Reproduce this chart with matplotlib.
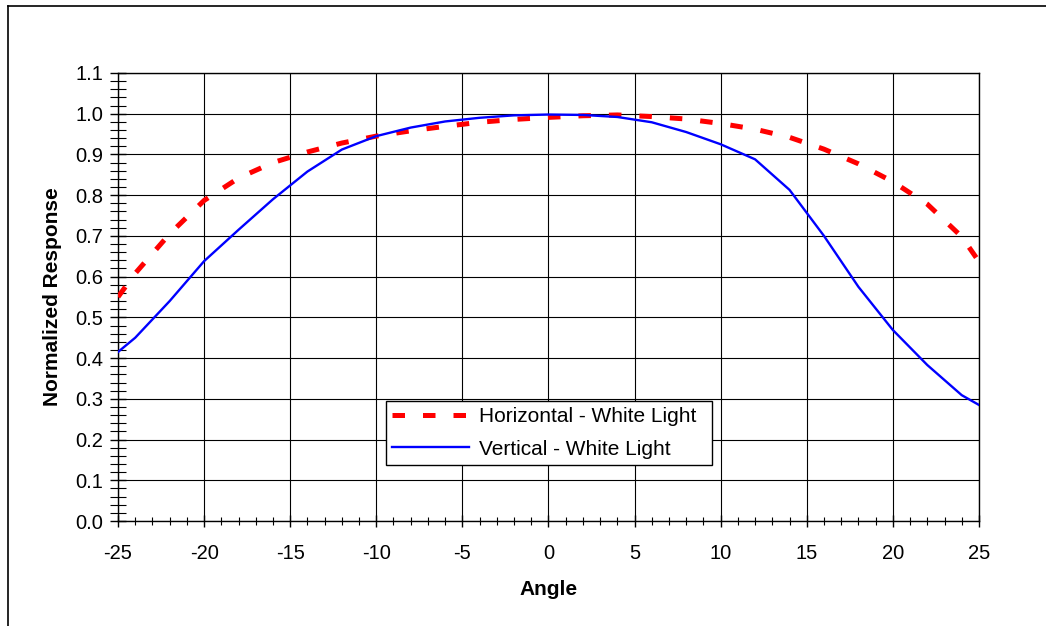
import numpy as np
import matplotlib.pyplot as plt
from matplotlib.lines import Line2D
from matplotlib.ticker import MultipleLocator, FormatStrFormatter

plt.rcParams['font.family'] = ['Liberation Sans', 'DejaVu Sans']
plt.rcParams['axes.unicode_minus'] = False

angle = [-25, -24, -22, -20, -18, -16, -14, -12, -10, -8, -6, -4, -2,
         0, 2, 4, 6, 8, 10, 12, 14, 16, 18, 20, 22, 24, 25]
horizontal = [0.55, 0.608, 0.705, 0.787, 0.842, 0.88, 0.906, 0.928, 0.945,
              0.958, 0.969, 0.979, 0.986, 0.991, 0.995, 0.997, 0.993, 0.987,
              0.976, 0.962, 0.942, 0.913, 0.877, 0.833, 0.778, 0.698, 0.637]
vertical = [0.415, 0.45, 0.54, 0.638, 0.715, 0.79, 0.858, 0.912, 0.945,
            0.966, 0.981, 0.99, 0.996, 0.998, 0.997, 0.992, 0.979, 0.955,
            0.925, 0.888, 0.813, 0.7, 0.575, 0.469, 0.383, 0.309, 0.285]

fig = plt.figure(figsize=(10.46, 6.26), dpi=100)
ax = fig.add_axes([0.1128, 0.1677, 0.8231, 0.7157])

ax.plot(angle, horizontal, color='#ff0000', lw=3.6, linestyle=(0, (2.5, 3.6)),
        label='Horizontal - White Light', zorder=3)
ax.plot(angle, vertical, color='#0000ff', lw=1.7,
        label='Vertical - White Light', zorder=3)

ax.set_xlim(-25, 25)
ax.set_ylim(0, 1.1)
ax.xaxis.set_major_locator(MultipleLocator(5))
ax.xaxis.set_minor_locator(MultipleLocator(1))
ax.yaxis.set_major_locator(MultipleLocator(0.1))
ax.yaxis.set_minor_locator(MultipleLocator(0.02))
ax.yaxis.set_major_formatter(FormatStrFormatter('%.1f'))

ax.grid(True, which='major', color='black', lw=0.8)
ax.tick_params(which='major', direction='inout', length=9, width=1,
               labelsize=14.5)
ax.tick_params(axis='x', which='major', pad=12)
ax.tick_params(axis='y', which='major', length=11, pad=5)
ax.tick_params(which='minor', direction='inout', length=6, width=0.8)
ax.tick_params(axis='y', which='minor', length=11)
for s in ax.spines.values():
    s.set_linewidth(1)

ax.set_xlabel('Angle', fontsize=15, fontweight='bold', labelpad=12)
ax.set_ylabel('Normalized Response', fontsize=15, fontweight='bold', labelpad=10)

leg = ax.legend(loc='lower left', bbox_to_anchor=(0.311, 0.125, 0.379, 0.15),
                mode='expand', fontsize=15, fancybox=False, framealpha=1,
                edgecolor='black', handlelength=3.7, borderaxespad=0,
                handletextpad=0.5, labelspacing=0.65, borderpad=0.3)
leg.get_frame().set_linewidth(1)

# outer chart frame
fig.add_artist(Line2D([8 / 1046, 8 / 1046], [0, 1 - 6 / 626], color='black', lw=1.2))
fig.add_artist(Line2D([8 / 1046, 1], [1 - 6 / 626, 1 - 6 / 626], color='black', lw=1.2))

fig.savefig('out.png', dpi=100)
